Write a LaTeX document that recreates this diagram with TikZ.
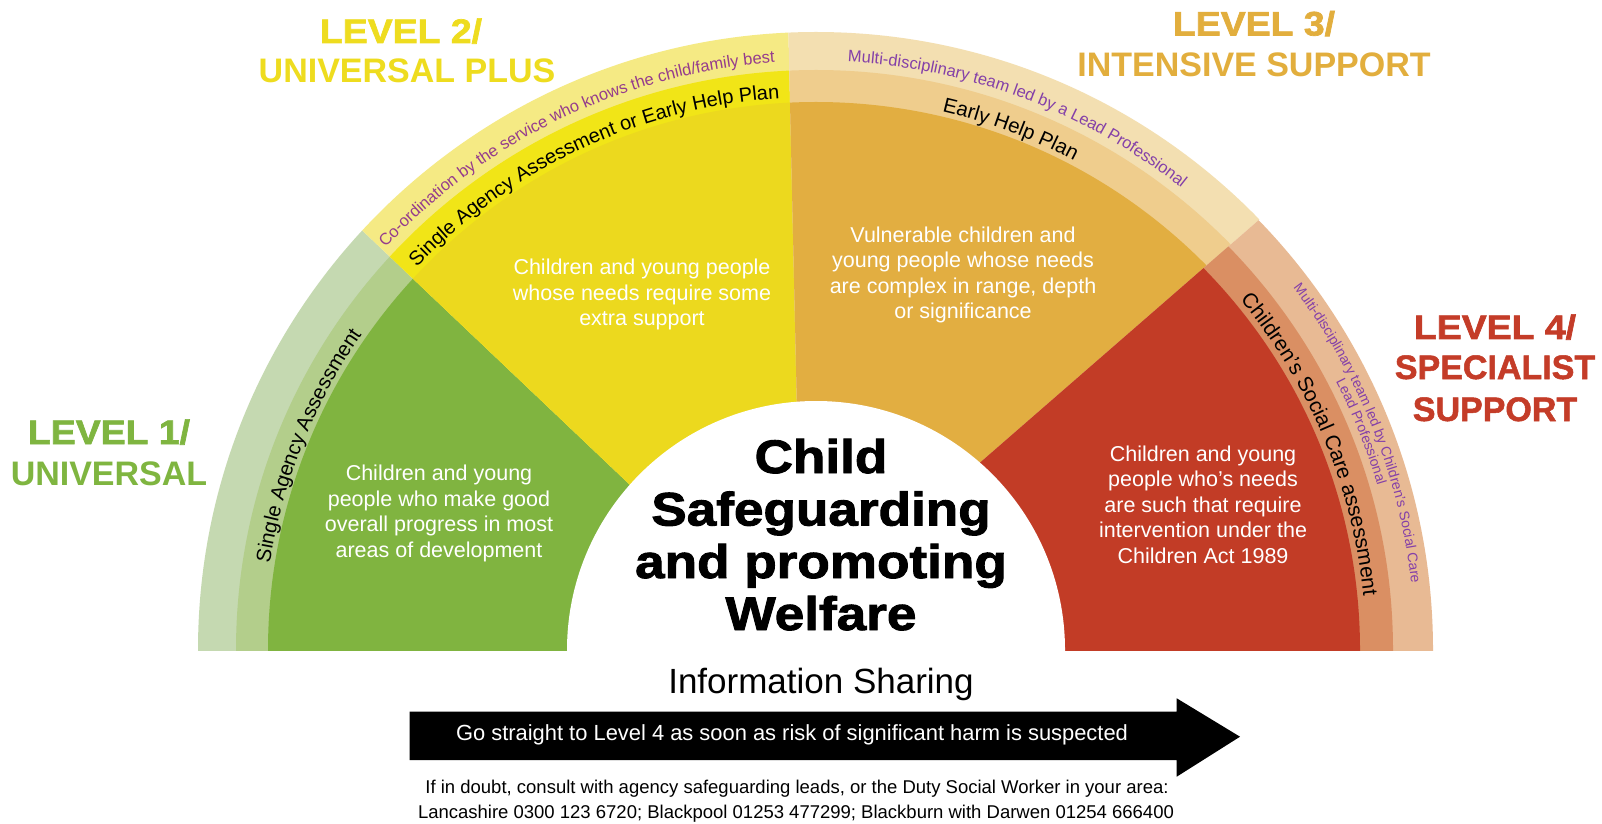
\documentclass[tikz,border=0pt]{standalone}
\usepackage{fontspec}
\setmainfont{Liberation Sans}
\newfontfamily\blk{Liberation Sans Bold}[FakeBold=1.5]
\newfontfamily\blkL{Liberation Sans Bold}[FakeBold=2,FakeStretch=1.1]
\newfontfamily\blkwide{Liberation Sans Bold}[FakeBold=2,FakeStretch=1.13]
\usetikzlibrary{decorations.text}
\definecolor{gOut}{HTML}{C5D9B1}
\definecolor{gMid}{HTML}{B3CE8B}
\definecolor{gMain}{HTML}{80B440}
\definecolor{yOut}{HTML}{F5EA84}
\definecolor{yMid}{HTML}{F1E517}
\definecolor{yMain}{HTML}{ECD91E}
\definecolor{oOut}{HTML}{F3DFB1}
\definecolor{oMid}{HTML}{EFCD8D}
\definecolor{oMain}{HTML}{E2AE41}
\definecolor{rOut}{HTML}{E8BA94}
\definecolor{rMid}{HTML}{DA8F63}
\definecolor{rMain}{HTML}{C23C26}
\definecolor{tGreen}{HTML}{7FB540}
\definecolor{tYellow}{HTML}{EEDC1F}
\definecolor{tOrange}{HTML}{E2AE3D}
\definecolor{tRed}{HTML}{C43C28}
\definecolor{purpA}{HTML}{953C8C}
\definecolor{purpB}{HTML}{8440A8}
\tikzset{
  lvl/.style={anchor=base, inner sep=0pt, font=\fontsize{34}{40}\selectfont\bfseries},
  lvlheavy/.style={anchor=base, inner sep=0pt, font=\fontsize{34}{40}\blk},
  lvlnum/.style={anchor=base, inner sep=0pt, font=\fontsize{34}{40}\blkL},
  ctitle/.style={anchor=base, inner sep=0pt, font=\fontsize{47}{52}\blkwide},
  bodytxt/.style={align=center, text=white, inner sep=0pt, font=\fontsize{21.5}{25.5}\selectfont},
  note/.style={inner sep=0pt, font=\fontsize{18.5}{21}\selectfont},
}
\newcommand\arctext[6]{\path[shift={(816,173)}, decorate, decoration={text along path, text align=center, text={|\color{#4}\fontsize{#5}{#5}\selectfont|#6}}] (#1:#3pt) arc[start angle=#1, end angle=#2, radius=#3pt];}
\begin{document}
\begin{tikzpicture}[x=1pt,y=1pt]
\useasboundingbox (0,0) rectangle (1602,823);
\fill[white] (0,0) rectangle (1602,823);
\coordinate (C) at (816,173);
\begin{scope}
\clip (0,173) rectangle (1602,823);
% Level 1
\begin{scope}
\clip (785.7,190.3) -- (255.7,693.7) -- (-100,693.7) -- (-100,100) -- (785.7,100) -- cycle;
\fill[gOut] (C) circle[radius=618pt];
\fill[gMid] (C) circle[radius=580pt];
\fill[gMain] (C) circle[radius=548pt];
\end{scope}
% Level 2
\begin{scope}
\clip (785.7,190.3) -- (255.7,693.7) -- (255.7,900) -- (785.9,900) -- (802.3,180) -- cycle;
\fill[yOut] (C) circle[radius=618pt];
\fill[yMid] (C) circle[radius=580pt];
\fill[yMain] (C) circle[radius=548pt];
\end{scope}
% Level 3
\begin{scope}
\clip (802.3,180) -- (785.9,900) -- (1336,900) -- (1336,670.2) -- (823,223.7) -- cycle;
\fill[oOut] (C) circle[radius=618pt];
\fill[oMid] (C) circle[radius=580pt];
\fill[oMain] (C) circle[radius=548pt];
\end{scope}
% Level 4
\begin{scope}
\clip (823,223.7) -- (1336,670.2) -- (1700,670.2) -- (1700,100) -- (823,100) -- cycle;
\fill[rOut] (C) circle[radius=617pt];
\fill[rMid] (C) circle[radius=577pt];
\fill[rMain] (C) circle[radius=544pt];
\end{scope}
\fill[white] (C) circle[radius=249pt];
\end{scope}

% curved texts
\arctext{145}{86}{589}{purpA}{16.5}{Co-ordination by the service who knows the child/family best}
\arctext{145}{85}{553}{black}{20}{Single Agency Assessment or Early Help Plan}
\arctext{99}{39.6}{589}{purpB}{16.5}{Multi-disciplinary team led by a Lead Professional}
\arctext{85}{54}{553}{black}{20.5}{Early Help Plan}
\arctext{178}{138.2}{553}{black}{20.5}{Single Agency Assessment}
\arctext{45}{0.2}{550}{black}{21}{Children’s Social Care assessment}
\arctext{42}{1.6}{599}{purpB}{14}{Multi-disciplinary team led by Children’s Social Care}
\arctext{36}{7.6}{585}{purpB}{14}{Lead Professional}

% level titles
\node[lvlnum, text=tGreen] (l1a) at (109,379) {LEVEL 1/};
\node[lvl, text=tGreen] (l1b) at (109,338) {UNIVERSAL};
\node[lvlnum, text=tYellow] (l2a) at (401,780) {LEVEL 2/};
\node[lvl, text=tYellow] (l2b) at (407,740) {UNIVERSAL PLUS};
\node[lvlnum, text=tOrange] (l3a) at (1254,787.5) {LEVEL 3/};
\node[lvl, text=tOrange] (l3b) at (1254,746.5) {INTENSIVE SUPPORT};
\node[lvlnum, text=tRed] (l4a) at (1495,484) {LEVEL 4/};
\node[lvlheavy, text=tRed] (l4b) at (1495,444) {SPECIALIST};
\node[lvlheavy, text=tRed] (l4c) at (1495,402) {SUPPORT};

% body texts
\node[bodytxt] (b1) at (439,309.5) {Children and young\\people who make good\\overall progress in most\\areas of development};
\node[bodytxt] (b2) at (642,528.5) {Children and young people\\whose needs require some\\extra support};
\node[bodytxt] (b3) at (963,548) {Vulnerable children and\\young people whose needs\\are complex in range, depth\\or significance};
\node[bodytxt] (b4) at (1203,318.5) {Children and young\\people who’s needs\\are such that require\\intervention under the\\Children Act 1989};

% centre title
\node[ctitle] (c1) at (821,350) {Child};
\node[ctitle] (c2) at (821,297.5) {Safeguarding};
\node[ctitle] (c3) at (821,245) {and promoting};
\node[ctitle] (c4) at (821,193) {Welfare};

% information sharing arrow
\node[inner sep=0pt, font=\fontsize{35}{40}\selectfont] (info) at (821,138.5) {Information Sharing};
\fill[black] (409.7,111.3) -- (1176.7,111.3) -- (1176.7,124.7) -- (1240,86.3) -- (1176.7,46.3) -- (1176.7,63) -- (409.7,63) -- cycle;
\node[inner sep=0pt, text=white, font=\fontsize{21.9}{24}\selectfont] (go) at (792,88.4) {Go straight to Level 4 as soon as risk of significant harm is suspected};
\node[note] (n1) at (797,34) {If in doubt, consult with agency safeguarding leads, or the Duty Social Worker in your area:};
\node[note] (n2) at (796,9) {Lancashire 0300 123 6720; Blackpool 01253 477299; Blackburn with Darwen 01254 666400};
\end{tikzpicture}
\end{document}
